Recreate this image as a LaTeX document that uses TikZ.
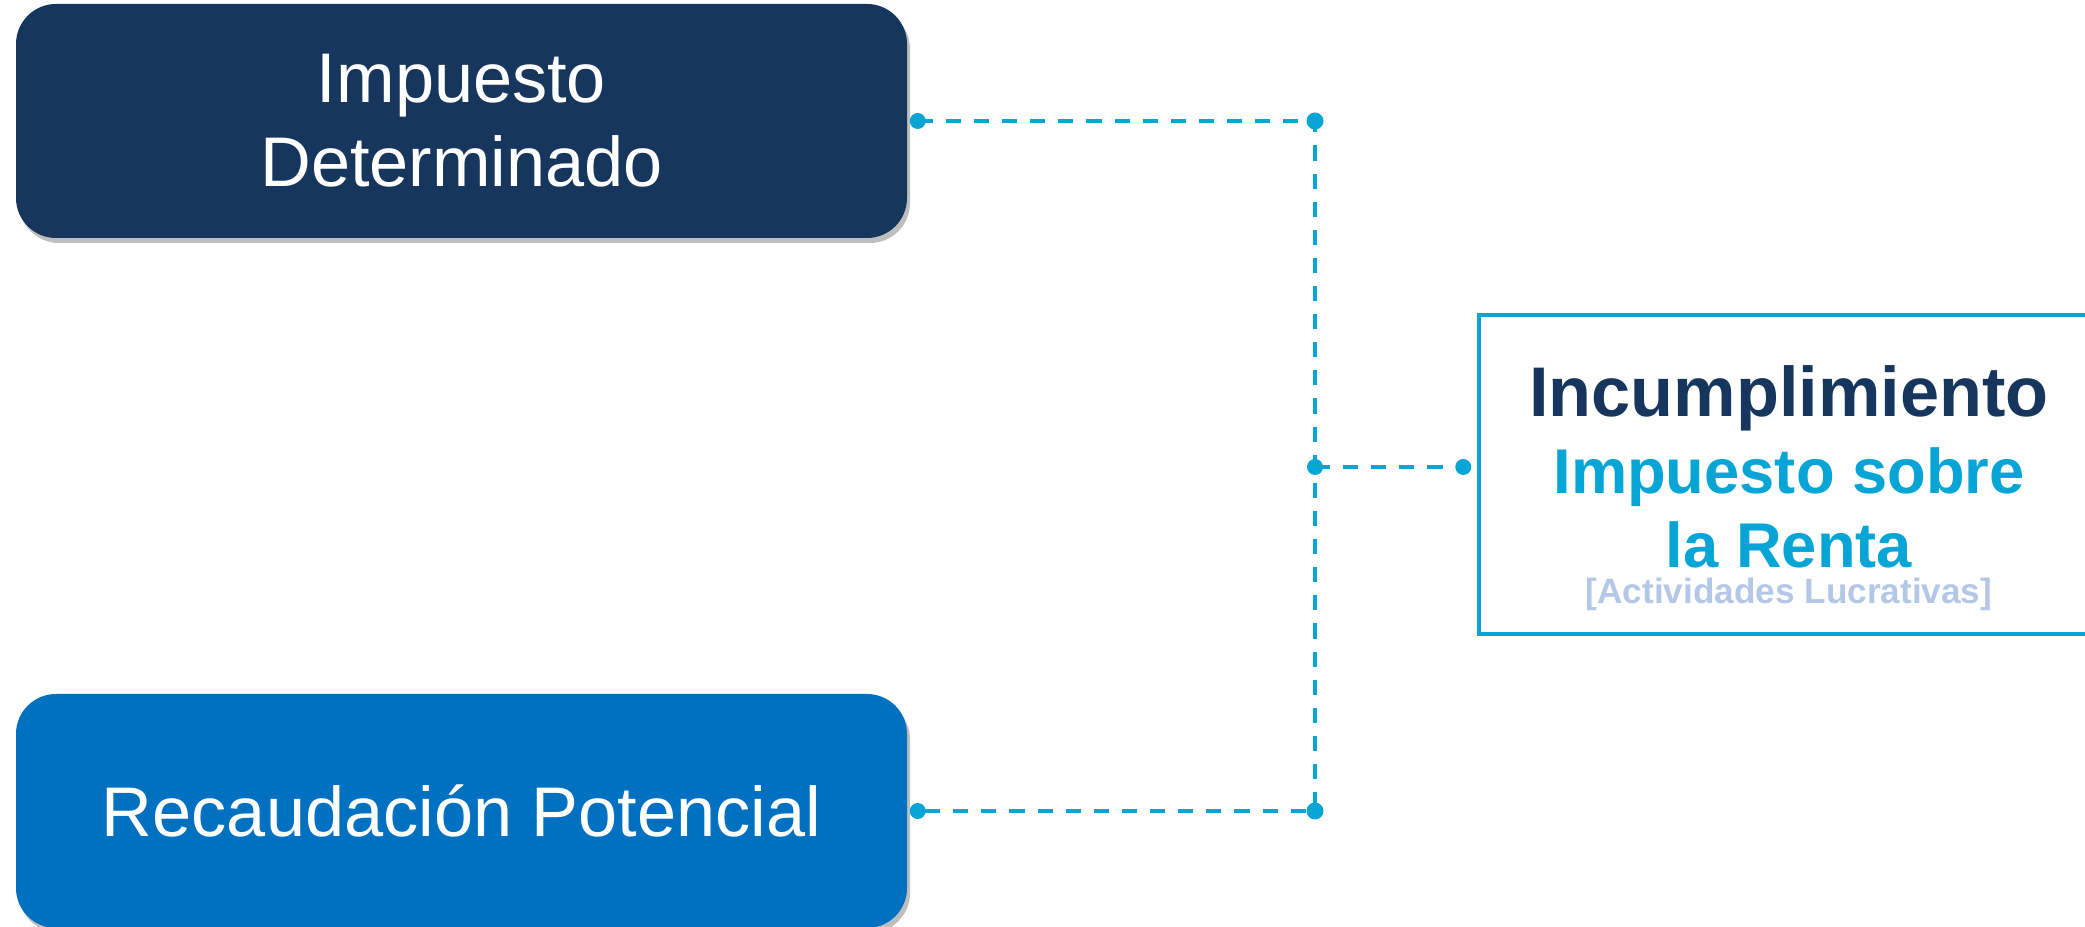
\documentclass[tikz,border=0pt]{standalone}
\usepackage{fontspec}
\setmainfont{Liberation Sans}
\usetikzlibrary{positioning,shadows}

\definecolor{navy}{RGB}{23,54,93}
\definecolor{midblue}{RGB}{0,112,192}
\definecolor{linecyan}{RGB}{6,165,214}
\definecolor{paleblue}{RGB}{180,199,231}

\tikzset{
  block/.style={shape=rectangle,rounded corners=0.4cm,text=white,align=center,
    minimum width=8.91cm,minimum height=2.34cm,
    font=\fontsize{20}{24}\selectfont,
    drop shadow={shadow xshift=0.03cm,shadow yshift=-0.05cm,opacity=0.25,fill=black}},
  link/.style={draw=linecyan,line width=1.1pt,dash pattern=on 4.3pt off 3.7pt},
}

\begin{document}
\begin{tikzpicture}
            \useasboundingbox (0,0) rectangle (20.85,9.27);

            \node[block,fill=navy] (det) at (4.615,8.06) {Impuesto\\Determinado};
            \node[block,fill=midblue] (pot) at (4.615,1.16) {Recaudación Potencial};

            \node[shape=rectangle,draw=linecyan,line width=1pt,minimum width=6.3cm,minimum height=3.19cm] (inc) at (17.94,4.525) {};
            \node[anchor=base,text=navy,font=\fontsize{20}{24}\selectfont\bfseries] (inct) at (17.89,5.10) {Incumplimiento};
            \node[anchor=base,text=linecyan,font=\fontsize{18}{22}\selectfont\bfseries] (isr) at (17.89,4.33) {Impuesto sobre};
            \node[anchor=base,text=linecyan,font=\fontsize{18}{22}\selectfont\bfseries] (renta) at (17.89,3.59) {la Renta};
            \node[anchor=base,text=paleblue,font=\fontsize{10}{12}\selectfont\bfseries] (act) at (17.89,3.23) {[Actividades Lucrativas]};

            \coordinate (trunk) at (13.15,4.60);

            \path [link] ([xshift=1mm]det.east) -- (det.east -| trunk) -- (pot.east -| trunk) -- ([xshift=1mm]pot.east);
            \path [link] (trunk) -- ([xshift=-1.4mm]inc.west |- trunk);

            \fill[linecyan] ([xshift=1mm]det.east) circle[radius=0.08];
            \fill[linecyan] ([xshift=1mm]pot.east) circle[radius=0.08];
            \fill[linecyan] (det.east -| trunk) circle[radius=0.085];
            \fill[linecyan] (pot.east -| trunk) circle[radius=0.085];
            \fill[linecyan] (trunk) circle[radius=0.08];
            \fill[linecyan] ([xshift=-1.4mm]inc.west |- trunk) circle[radius=0.08];
        \end{tikzpicture}
\end{document}
